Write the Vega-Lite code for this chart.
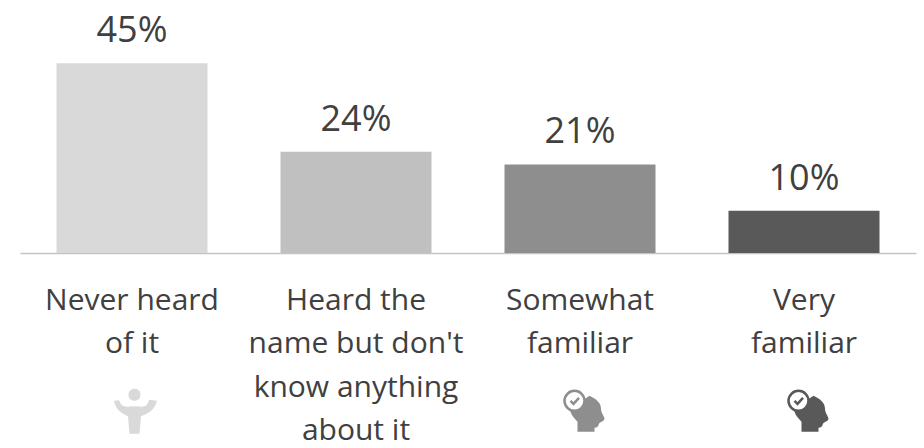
{
  "$schema": "https://vega.github.io/schema/vega-lite/v6.json",
  "width": 896,
  "height": 253,
  "autosize": "none",
  "padding": {"left": 20, "right": 8, "top": 0, "bottom": 195},
  "background": "white",
  "config": {"view": {"stroke": null}},
  "data": {"values": [
    {"level": "Never heard of it", "share": 0.45, "tone": "#d9d9d9", "icon": "person"},
    {"level": "Heard the name but don't know anything about it", "share": 0.24, "tone": "#c0c0c0", "icon": "none"},
    {"level": "Somewhat familiar", "share": 0.21, "tone": "#8e8e8e", "icon": "head"},
    {"level": "Very familiar", "share": 0.10, "tone": "#595959", "icon": "head"}
  ]},
  "encoding": {
    "x": {"field": "level", "type": "nominal", "sort": null, "scale": {"paddingInner": 0.326, "paddingOuter": 0.163}}
  },
  "layer": [
    {
      "mark": {"type": "bar", "width": 151},
      "encoding": {
        "x": {"field": "level", "type": "nominal", "sort": null, "scale": {"paddingInner": 0.326, "paddingOuter": 0.163}, "axis": {"title": null, "domainColor": "#c4c4c4", "domainWidth": 1.5, "ticks": false, "labelFontSize": 30, "labelFont": "Open Sans", "labelColor": "#404040", "labelAngle": 0, "labelPadding": 32, "labelLimit": 300, "labelLineHeight": 43.5, "labelExpr": "datum.value === 'Never heard of it' ? ['Never heard','of it'] : datum.value === 'Somewhat familiar' ? ['Somewhat','familiar'] : datum.value === 'Very familiar' ? ['Very','familiar'] : ['Heard the','name but don\\'t','know anything','about it']"}},
        "y": {"field": "share", "type": "quantitative", "axis": null, "scale": {"domain": [0, 0.596]}},
        "color": {"field": "tone", "type": "nominal", "scale": null}
      }
    },
    {
      "mark": {"type": "text", "baseline": "bottom", "dy": -13, "fontSize": 36, "font": "Open Sans", "color": "#404040"},
      "encoding": {
        "y": {"field": "share", "type": "quantitative"},
        "text": {"field": "share", "type": "quantitative", "format": ".0%"}
      }
    },
    {
      "transform": [{"filter": "datum.icon === 'person'"}],
      "mark": {"type": "point", "filled": true, "size": 10000, "shape": "M .05 -.5 C .12 -.5 .17 -.45 .17 -.38 C .17 -.31 .12 -.26 .05 -.26 C -.02 -.26 -.07 -.31 -.07 -.38 C -.07 -.45 -.02 -.5 .05 -.5 Z M -.36 -.26 L -.26 -.27 C -.2 -.1 -.1 -.15 .05 -.15 C .2 -.15 .3 -.1 .34 -.28 L .5 -.26 C .45 -.05 .3 0 .18 .05 L .15 .4 L -.05 .4 L -.08 .05 C -.2 0 -.33 -.08 -.36 -.26 Z", "opacity": 1},
      "encoding": {
        "y": {"datum": -0.3815, "type": "quantitative"},
        "color": {"field": "tone", "type": "nominal", "scale": null}
      }
    },
    {
      "transform": [{"filter": "datum.icon === 'head'"}],
      "mark": {"type": "point", "filled": true, "size": 10000, "shape": "M .19 -.36 C .32 -.3 .42 -.22 .42 -.1 C .42 -.02 .49 .06 .49 .1 C .49 .15 .4 .16 .38 .2 C .36 .26 .34 .28 .29 .28 L .29 .36 L -.05 .36 L -.05 .16 C -.12 .08 -.2 0 -.2 -.1 Z", "opacity": 1},
      "encoding": {
        "y": {"datum": -0.3815, "type": "quantitative"},
        "color": {"field": "tone", "type": "nominal", "scale": null}
      }
    },
    {
      "transform": [{"filter": "datum.icon === 'head'"}],
      "mark": {"type": "point", "filled": false, "fill": "white", "size": 10000, "strokeWidth": 2.5, "opacity": 1, "shape": "M -.31 -.26 C -.31 -.37 -.22 -.46 -.11 -.46 C 0 -.46 .09 -.37 .09 -.26 C .09 -.15 0 -.06 -.11 -.06 C -.22 -.06 -.31 -.15 -.31 -.26 Z"},
      "encoding": {
        "y": {"datum": -0.3815, "type": "quantitative"},
        "stroke": {"field": "tone", "type": "nominal", "scale": null}
      }
    },
    {
      "transform": [{"filter": "datum.icon === 'head'"}],
      "mark": {"type": "point", "filled": false, "size": 10000, "strokeWidth": 2.5, "opacity": 1, "shape": "M -.19 -.26 L -.13 -.2 L -.02 -.32"},
      "encoding": {
        "y": {"datum": -0.3815, "type": "quantitative"},
        "stroke": {"field": "tone", "type": "nominal", "scale": null}
      }
    }
  ]
}
